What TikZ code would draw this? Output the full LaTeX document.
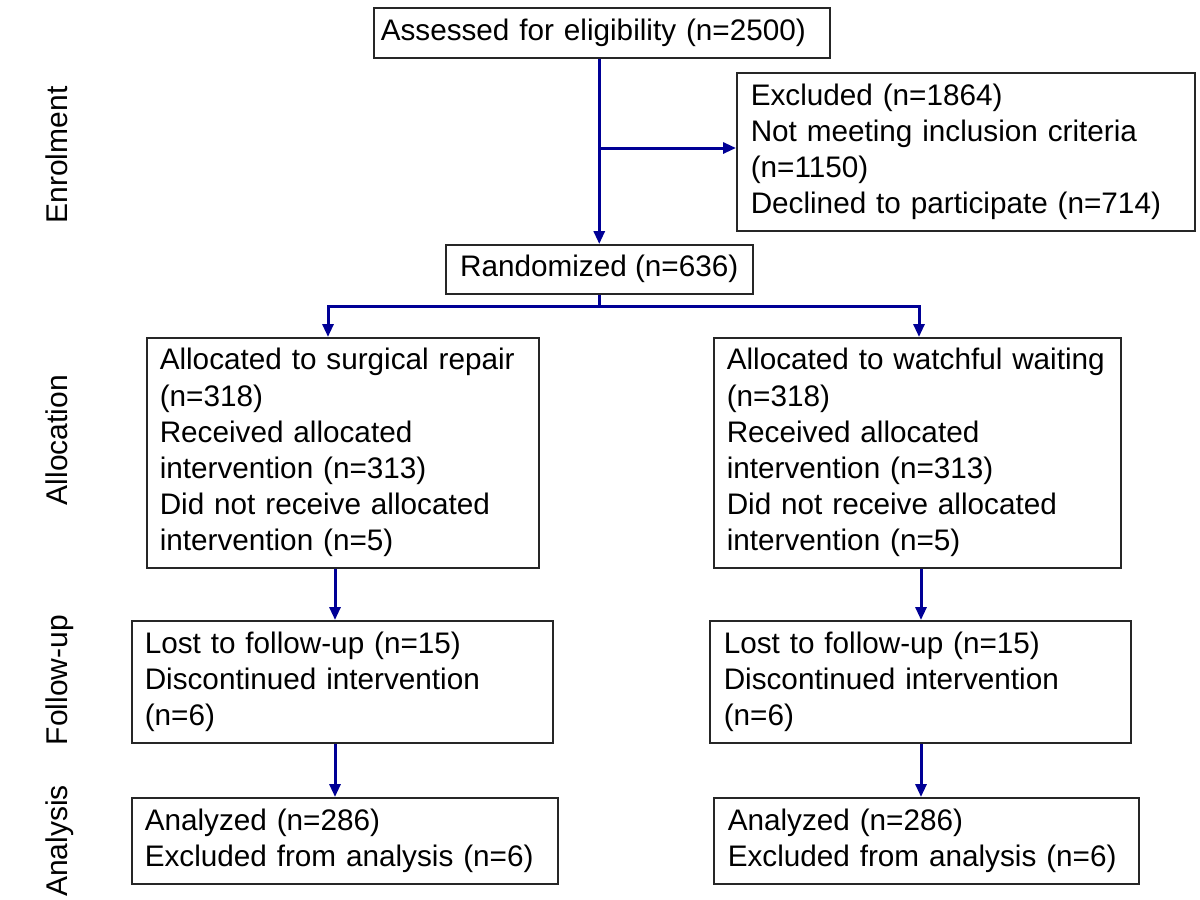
\documentclass[tikz,border=0pt]{standalone}
\usepackage{fontspec}
\setmainfont{Liberation Sans}
\usetikzlibrary{arrows.meta}
\definecolor{flowblue}{RGB}{0,0,150}
\newcommand{\tl}[1]{\mbox{#1}}
\tikzset{
  box/.style={draw=black!85, line width=0.75pt, anchor=north west, inner ysep=0pt,
    font=\fontsize{14.85pt}{18.1pt}\selectfont},
  lbox/.style={box, align=left},
  side/.style={rotate=90, anchor=base, inner sep=0pt, font=\fontsize{15pt}{18pt}\selectfont},
  conn/.style={draw=flowblue, line width=1.5pt},
  arr/.style={conn, -{Triangle[length=6.5pt,width=5.5pt]}},
}
\begin{document}
\begin{tikzpicture}[x=0.5pt, y=-0.5pt]
\useasboundingbox[fill=white] (0,0) rectangle (1200,900);

% side labels
\node[side] (lenr) at (68,155) {Enrolment};
\node[side] (lall) at (68,440) {Allocation};
\node[side] (lfol) at (68,680) {Follow-up};
\node[side] (lana) at (68,841) {Analysis};

% boxes
\node[lbox, inner xsep=3.5pt, text width=221pt, minimum width=228pt, minimum height=25pt] (assess) at (373,7)
  {\tl{Assessed for eligibility (n=2500)}};
\node[lbox, inner xsep=7pt, text width=215pt, minimum width=229pt, minimum height=79pt] (excl) at (736,72)
  {\tl{Excluded (n=1864)}\\\tl{Not meeting inclusion criteria}\\\tl{(n=1150)}\\\tl{Declined to participate (n=714)}};
\node[box, align=center, inner xsep=0pt, minimum width=153.5pt, minimum height=24.5pt] (rand) at (445,244)
  {Randomized (n=636)};
\node[lbox, inner xsep=6.5pt, text width=183pt, minimum width=196pt, minimum height=115pt] (allocL) at (146,337)
  {\tl{Allocated to surgical repair}\\\tl{(n=318)}\\\tl{Received allocated}\\\tl{intervention (n=313)}\\\tl{Did not receive allocated}\\\tl{intervention (n=5)}};
\node[lbox, inner xsep=6.5pt, text width=190.5pt, minimum width=203.5pt, minimum height=115pt] (allocR) at (713,337)
  {\tl{Allocated to watchful waiting}\\\tl{(n=318)}\\\tl{Received allocated}\\\tl{intervention (n=313)}\\\tl{Did not receive allocated}\\\tl{intervention (n=5)}};
\node[lbox, inner xsep=6.5pt, text width=197.5pt, minimum width=210.5pt, minimum height=61pt] (fuL) at (131,620)
  {\tl{Lost to follow-up (n=15)}\\\tl{Discontinued intervention}\\\tl{(n=6)}};
\node[lbox, inner xsep=7pt, text width=196.5pt, minimum width=210.5pt, minimum height=61pt] (fuR) at (709,620)
  {\tl{Lost to follow-up (n=15)}\\\tl{Discontinued intervention}\\\tl{(n=6)}};
\node[lbox, inner xsep=6.5pt, text width=200pt, minimum width=213pt, minimum height=43pt] (anL) at (131,797)
  {\tl{Analyzed (n=286)}\\\tl{Excluded from analysis (n=6)}};
\node[lbox, inner xsep=7pt, text width=198.5pt, minimum width=212.5pt, minimum height=43pt] (anR) at (713,797)
  {\tl{Analyzed (n=286)}\\\tl{Excluded from analysis (n=6)}};

% helper coordinates
\coordinate (jy) at (0,148);
\coordinate (sy) at (0,306);
\coordinate (j1) at (rand.north |- jy);
\coordinate (split) at (rand.south |- sy);
\coordinate (dropL) at (328,0);
\coordinate (dropR) at (919,0);
\coordinate (colL) at (335,0);
\coordinate (colR) at (921,0);

% connectors
\draw[arr] (assess.south -| rand.north) -- (rand.north);
\draw[arr] (j1) -- (j1 -| excl.west);
\draw[conn] (rand.south) -- (split);
\draw[arr] (split) -| (dropL |- allocL.north);
\draw[arr] (split) -| (dropR |- allocR.north);
\draw[arr] (colL |- allocL.south) -- (colL |- fuL.north);
\draw[arr] (colR |- allocR.south) -- (colR |- fuR.north);
\draw[arr] (colL |- fuL.south) -- (colL |- anL.north);
\draw[arr] (colR |- fuR.south) -- (colR |- anR.north);
\end{tikzpicture}
\end{document}
